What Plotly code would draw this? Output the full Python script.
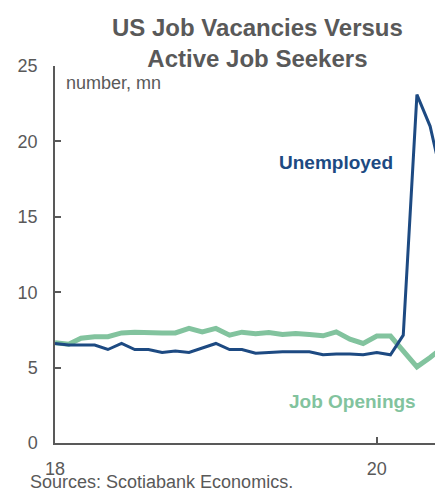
import plotly.graph_objects as go
import pandas as pd

months = pd.date_range("2018-01-01", "2020-06-01", freq="MS").strftime("%Y-%m-%d").tolist()
unemployed = [6.6, 6.5, 6.5, 6.5, 6.2, 6.6, 6.2, 6.2, 6.0, 6.1, 6.0, 6.3, 6.6, 6.2, 6.2,
              5.95, 6.0, 6.05, 6.05, 6.05, 5.85, 5.9, 5.9, 5.85, 6.0, 5.85, 7.15, 23.1, 21.0, 17.0]
job_openings = [6.65, 6.55, 6.95, 7.05, 7.05, 7.3, 7.35, 7.3, 7.3, 7.3, 7.6, 7.37, 7.6, 7.15, 7.35,
                7.25, 7.33, 7.2, 7.26, 7.2, 7.11, 7.37, 6.89, 6.6, 7.09, 7.09, 6.16, 5.05, 5.67, 6.4]
y_ticks = [0, 5, 10, 15, 20, 25]
x_ticks = ["2018-01-01", "2020-01-01"]
x_ticklabels = ["18", "20"]

BLUE = "#1d4a82"
GREEN = "#82c39e"
GRAY = "#595959"
FONT = "Liberation Sans, Arial, sans-serif"

fig = go.Figure()
fig.add_trace(go.Scatter(x=months, y=job_openings, mode="lines",
                         line=dict(color=GREEN, width=5), showlegend=False))
fig.add_trace(go.Scatter(x=months, y=unemployed, mode="lines",
                         line=dict(color=BLUE, width=3), showlegend=False))

fig.update_layout(
    width=435, height=489,
    margin=dict(l=55, r=0, t=65.5, b=46),
    paper_bgcolor="white", plot_bgcolor="white",
    font=dict(family=FONT, size=18, color=GRAY),
    xaxis=dict(type="date", range=["2018-01-01", "2020-05-12"],
               tickvals=x_ticks, ticktext=x_ticklabels,
               showgrid=False, zeroline=False, showline=True, linecolor=GRAY, linewidth=1.5,
               ticks="inside", ticklen=6, tickcolor=GRAY, tickwidth=1.5,
               tickfont=dict(size=18, color=GRAY), ticklabelstandoff=9),
    yaxis=dict(range=[0, 25], tickvals=y_ticks,
               showgrid=False, zeroline=False, showline=True, linecolor=GRAY, linewidth=1.5,
               ticks="inside", ticklen=6, tickcolor=GRAY, tickwidth=1.5,
               tickfont=dict(size=18, color=GRAY), ticklabelstandoff=12),
    annotations=[
        dict(text="<b>US Job Vacancies Versus<br>Active Job Seekers</b>", xref="paper", yref="paper",
             x=0.534, y=1.062, xanchor="center", yanchor="middle", showarrow=False,
             font=dict(size=24, color=GRAY, family=FONT)),
        dict(text="number, mn", xref="paper", yref="paper", x=0.0237, y=0.956,
             xanchor="left", yanchor="middle", showarrow=False, font=dict(size=18, color=GRAY)),
        dict(text="<b>Unemployed</b>", xref="paper", yref="paper", x=0.895, y=0.744,
             xanchor="right", yanchor="middle", showarrow=False, font=dict(size=19, color=BLUE)),
        dict(text="<b>Job Openings</b>", xref="paper", yref="paper", x=0.955, y=0.109,
             xanchor="right", yanchor="middle", showarrow=False, font=dict(size=19, color=GREEN)),
        dict(text="Sources: Scotiabank Economics.", xref="paper", yref="paper", x=-0.071, y=-0.103,
             xanchor="left", yanchor="middle", showarrow=False, font=dict(size=18, color=GRAY)),
    ],
)

fig.write_html("out.html")
